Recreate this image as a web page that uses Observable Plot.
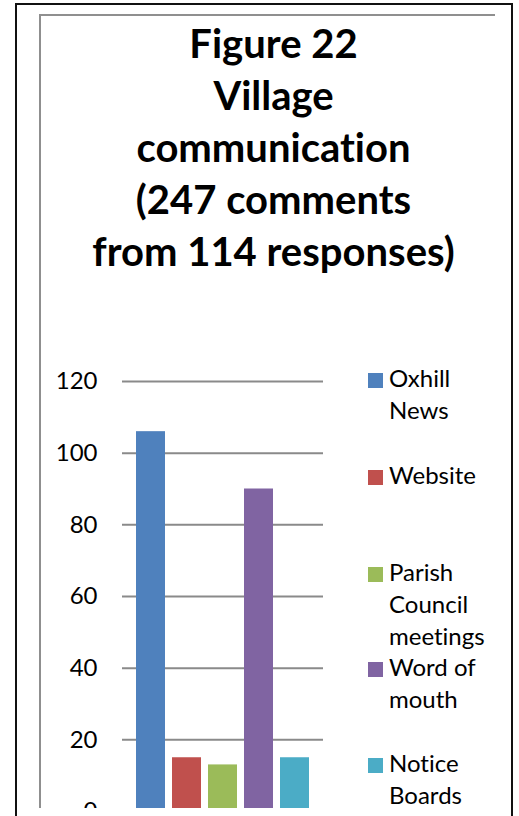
<!DOCTYPE html>
<html>
<head>
<meta charset="utf-8">
<script src="https://cdn.jsdelivr.net/npm/d3@7"></script>
<script src="https://cdn.jsdelivr.net/npm/@observablehq/plot@0.6"></script>
<style>
  html, body { margin: 0; padding: 0; background: #fff; }
  #page { position: relative; width: 519px; height: 816px; overflow: hidden; background: #fff; font-family: Lato, "Open Sans", sans-serif; font-variant-ligatures: none; font-feature-settings: "liga" 0, "clig" 0; }
  .outer { position: absolute; left: 15px; top: 3px; width: 494px; height: 900px; border: 2px solid #111; }
  .inner { position: absolute; left: 39px; top: 14px; width: 454px; height: 792px; border-left: 2px solid #8f8f8f; border-top: 2px solid #8f8f8f; }
  .title { position: absolute; left: 23.5px; top: 17px; width: 500px; text-align: center; font-weight: 700; font-size: 40px; line-height: 52px; color: #000; }
  .plotwrap { position: absolute; left: 40px; top: 360px; width: 300px; height: 448px; overflow: hidden; }
  .leg { position: absolute; left: 368px; font-size: 24px; line-height: 32px; color: #000; }
  .leg .sw { position: absolute; left: 0; width: 15px; height: 15px; }
  .leg .tx { position: absolute; left: 21px; white-space: nowrap; }
</style>
</head>
<body>
<div id="page">
  <div class="outer"></div>
  <div class="inner"></div>
  <div class="title" id="title"></div>
  <div class="plotwrap" id="plot"></div>
  <div id="legend"></div>
</div>
<script>
const titleLines = ["Figure 22", "Village", "communication", "(247 comments", "from 114 responses)"];
const categories = ["Oxhill News", "Website", "Parish Council meetings", "Word of mouth", "Notice Boards"];
const legendLines = [["Oxhill", "News"], ["Website"], ["Parish", "Council", "meetings"], ["Word of", "mouth"], ["Notice", "Boards"]];
const values = [106, 15, 13, 90, 15];
const colors = ["#4F81BD", "#C0504D", "#9BBB59", "#8064A2", "#4BACC6"];
const yTicks = [0, 20, 40, 60, 80, 100, 120];
const legendBaselines = [388, 485, 582, 677, 773];

document.getElementById("title").innerHTML = titleLines.map(t => `<div>${t}</div>`).join("");

const data = categories.map((c, i) => ({category: c, value: values[i]}));

const chart = Plot.plot({
  width: 300,
  height: 460,
  marginLeft: 82,
  marginRight: 17,
  marginTop: 21,
  marginBottom: 9,
  style: {fontFamily: "Lato, 'Open Sans', sans-serif", fontSize: "24px", color: "#000", background: "transparent", overflow: "visible"},
  x: {domain: categories, paddingInner: 0.19, paddingOuter: 0.32, axis: null},
  y: {domain: [0, 120], ticks: yTicks, tickSize: 0, tickPadding: 25, label: null},
  color: {domain: categories, range: colors},
  marks: [
    Plot.ruleY(yTicks, {stroke: "#8a8a8a", strokeWidth: 2}),
    Plot.barY(data, {x: "category", y: "value", fill: "category"}),
    Plot.axisY({ticks: yTicks, tickSize: 0, tickPadding: 25, label: null, fontSize: 24, fill: "#000"})
  ]
});
document.getElementById("plot").appendChild(chart);

const leg = document.getElementById("legend");
const off = 26; // baseline offset from line top for 24px / 32px line-height
categories.forEach((c, i) => {
  const base = legendBaselines[i];
  const item = document.createElement("div");
  item.className = "leg";
  item.style.top = (base - off) + "px";
  item.innerHTML = `<div class="sw" style="background:${colors[i]};top:${off - 15}px"></div><div class="tx">${legendLines[i].join("<br>")}</div>`;
  leg.appendChild(item);
});
</script>
</body>
</html>
